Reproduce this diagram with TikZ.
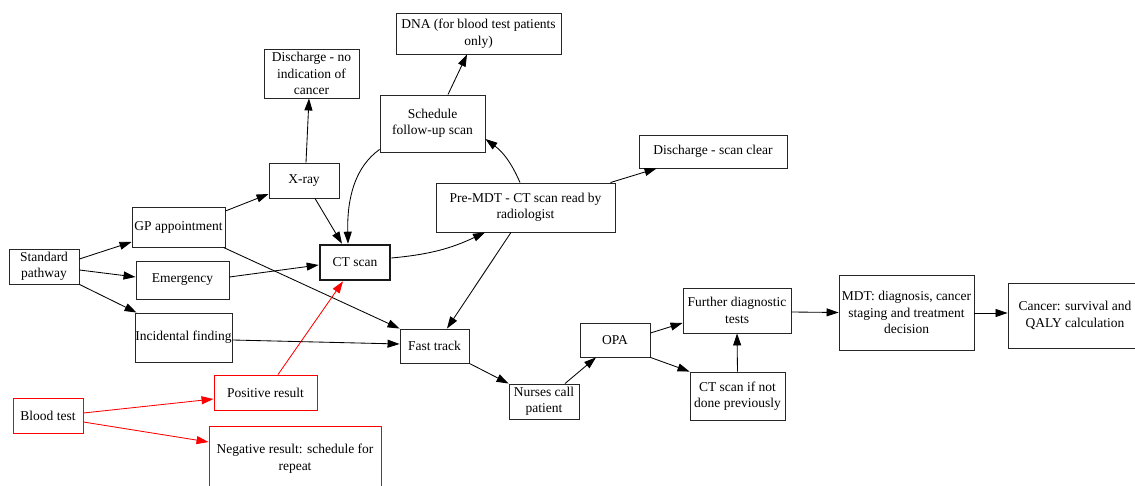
\documentclass[tikz,border=0pt]{standalone}
\usepackage{fontspec}
\setmainfont{Liberation Serif}
\usetikzlibrary{arrows.meta}
\begin{document}
\begin{tikzpicture}[x=1pt,y=-1pt,
  box/.style={draw=black!85, line width=0.9pt, rectangle, inner sep=0pt, align=center,
    font=\fontsize{13.5}{16.5}\selectfont},
  rbox/.style={box, draw=red},
  thickbox/.style={box, draw=black!90, line width=2.6pt},
  arr/.style={line width=0.85pt, -{Triangle[length=12pt,width=8pt]}},
  rarr/.style={arr, draw=red}]
\useasboundingbox (0,0) rectangle (1135,486);
\clip (0,0) rectangle (1135,486);
\fill[white] (0,0) rectangle (1135,486);

% nodes
\node[box, minimum width=70pt, minimum height=35pt] (std) at (44,266.5) {Standard\\pathway};
\node[box, minimum width=93pt, minimum height=40pt] (gp) at (178.5,227) {GP appointment};
\node[box, minimum width=93pt, minimum height=38pt] (emg) at (182.5,280) {Emergency};
\node[box, minimum width=97pt, minimum height=49pt] (inc) at (183.5,337.5) {Incidental finding};
\node[box, minimum width=70pt, minimum height=35pt] (xray) at (304,180.5) {X-ray};
\node[thickbox, minimum width=70pt, minimum height=35pt] (ct) at (355,262.5) {CT scan};
\node[box, minimum width=95pt, minimum height=49pt] (dno) at (311.5,73.5) {Discharge - no\\indication of\\cancer};
\node[box, minimum width=165pt, minimum height=41pt] (dna) at (478.5,33.5) {DNA (for blood test patients\\only)};
\node[box, minimum width=105pt, minimum height=57pt] (sched) at (432.5,123.5) {Schedule\\follow-up scan};
\node[box, minimum width=179pt, minimum height=49pt] (pre) at (525.5,207.5) {Pre-MDT - CT scan read by\\radiologist};
\node[box, minimum width=148pt, minimum height=33pt] (dsc) at (713,151.5) {Discharge - scan clear};
\node[box, minimum width=69pt, minimum height=34pt] (fast) at (434.5,346) {Fast track};
\node[box, minimum width=70pt, minimum height=35pt] (nurse) at (544,401.5) {Nurses call\\patient};
\node[box, minimum width=70pt, minimum height=34pt] (opa) at (615,340) {OPA};
\node[box, minimum width=108pt, minimum height=45pt] (fdt) at (737,310.5) {Further diagnostic\\tests};
\node[box, minimum width=95pt, minimum height=48pt] (ctif) at (737.5,396) {CT scan if not\\done previously};
\node[box, minimum width=135pt, minimum height=75pt] (mdt) at (906.5,312.5) {MDT: diagnosis, cancer\\staging and treatment\\decision};
\node[box, minimum width=134pt, minimum height=65pt] (cancer) at (1075,315.5) {Cancer: survival and\\QALY calculation};
\node[rbox, minimum width=70pt, minimum height=35pt] (blood) at (48,415.5) {Blood test};
\node[rbox, minimum width=103pt, minimum height=35pt] (pos) at (265.5,392.5) {Positive result};
\node[rbox, minimum width=172pt, minimum height=65pt] (neg) at (295,458.5) {Negative result: schedule for\\repeat};

% edges
\draw[arr] ([yshift=7.5pt]std.east) -- ([yshift=-15pt]gp.west);
\draw[arr] ([yshift=-3.5pt]std.east) -- ([yshift=3pt]emg.west);
\draw[arr] (std.south east) -- ([xshift=2pt]inc.north west);
\draw[arr] ([yshift=16pt]gp.east) -- ([yshift=-13.5pt]xray.west);
\draw[arr] ([xshift=-2pt]gp.south east) -- (fast.north west);
\draw[arr] ([yshift=3pt]emg.east) -- ([yshift=-2.5pt]ct.west);
\draw[arr] ([yshift=-2.5pt]inc.east) -- ([yshift=2pt]fast.west);
\draw[arr] ([xshift=11pt]xray.south) -- ([xshift=-13pt]ct.north);
\draw[arr] ([xshift=2pt]xray.north) -- ([xshift=-2.5pt]dno.south);
\draw[arr] ([yshift=3pt]sched.south west) .. controls +(-25,18) and +(-1,-45) .. ([xshift=-7pt]ct.north);
\draw[arr] ([xshift=15.5pt]sched.north) -- ([xshift=-11.5pt]dna.south);
\draw[arr] ([yshift=4.5pt]ct.east) to[bend right=10] ([xshift=-40.5pt]pre.south);
\draw[arr] ([xshift=-5.5pt]pre.north) to[bend right=15] ([yshift=-15.5pt]sched.east);
\draw[arr] ([xshift=-5pt]pre.north east) -- ([xshift=18pt]dsc.south west);
\draw[arr] ([xshift=-14.5pt]pre.south) -- ([xshift=12.5pt]fast.north);
\draw[arr] (fast.south east) -- (nurse.north west);
\draw[arr] ([xshift=21pt]nurse.north) -- ([xshift=-19pt]opa.south);
\draw[arr] ([yshift=7pt]opa.east) -- ([yshift=-12.5pt]fdt.west);
\draw[arr] (opa.south east) -- (ctif.north west);
\draw[arr] (ctif.north) -- (fdt.south);
\draw[arr] ([yshift=-1.5pt]fdt.east) -- (mdt.west);
\draw[arr] ([yshift=-0.5pt]mdt.east) -- ([yshift=2.5pt]cancer.west);
\draw[rarr] ([yshift=2.5pt]blood.east) -- ([yshift=-6.5pt]pos.west);
\draw[rarr] ([yshift=-6.5pt]blood.east) -- ([yshift=16.5pt]neg.west);
\draw[rarr] ([xshift=12.5pt]pos.north) -- ([xshift=-12pt]ct.south);
\end{tikzpicture}
\end{document}
